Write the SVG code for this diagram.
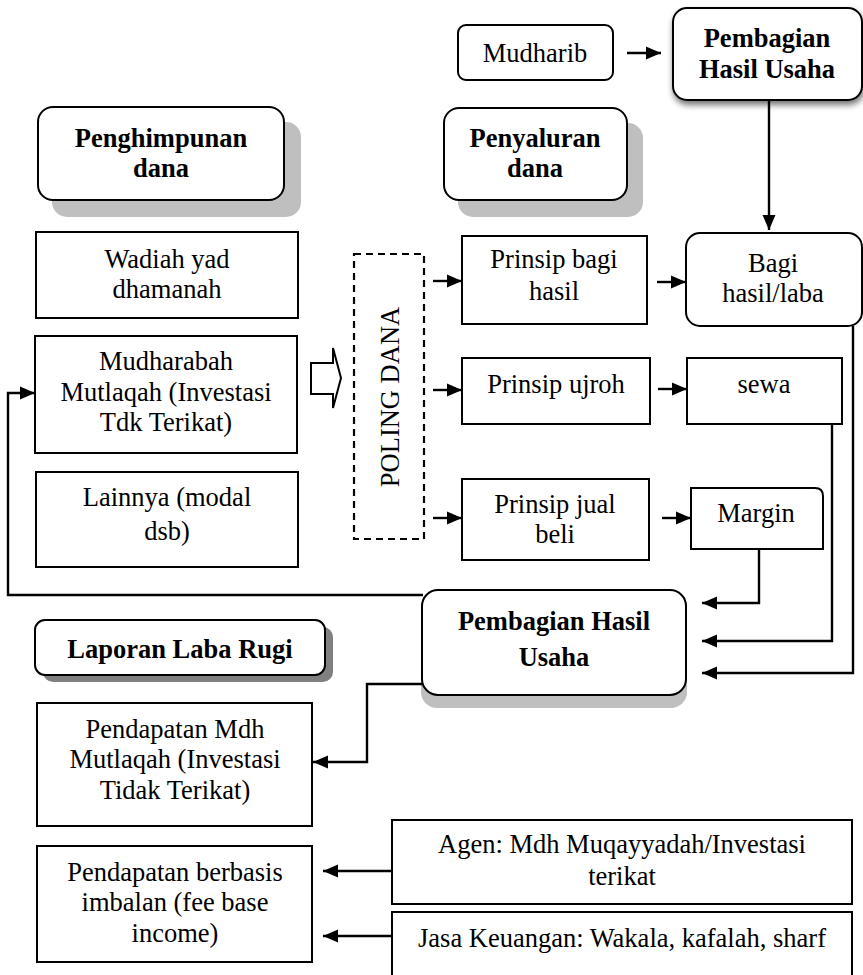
<svg xmlns="http://www.w3.org/2000/svg" width="863" height="975" viewBox="0 0 863 975">
<defs>
<style>
.b{fill:#fff;stroke:#000;stroke-width:2}
.t{font-family:"Liberation Serif","Times New Roman",serif;font-size:26.5px;fill:#000;text-anchor:middle}
.tb{font-weight:bold}
.sh{fill:#bfbfbf}
.c{fill:none;stroke:#000;stroke-width:2.4}
</style>
<marker id="ah" markerUnits="userSpaceOnUse" markerWidth="16" markerHeight="14" refX="15" refY="7" orient="auto">
<path d="M0,0.5 L15,7 L0,13.5 Z" fill="#000"/>
</marker>
<filter id="soft" x="-20%" y="-20%" width="140%" height="150%">
<feGaussianBlur in="SourceAlpha" stdDeviation="3"/>
<feOffset dx="1" dy="4" result="o"/>
<feComponentTransfer><feFuncA type="linear" slope="0.55"/></feComponentTransfer>
<feMerge><feMergeNode/><feMergeNode in="SourceGraphic"/></feMerge>
</filter>
</defs>
<rect width="863" height="975" fill="#fff"/>

<g id="mudharib">
<rect class="b" x="458" y="25" width="155" height="55" rx="8"/>
<text class="t" x="535" y="62">Mudharib</text>
</g>
<g id="pembagian-top">
<rect class="b" x="673" y="8" width="189" height="92" rx="14" filter="url(#soft)"/>
<text class="t tb" x="767" y="47">Pembagian</text>
<text class="t tb" x="767" y="78">Hasil Usaha</text>
</g>
<g id="penghimpunan">
<rect class="sh" x="52" y="122" width="249" height="95" rx="15"/>
<rect class="b" x="38" y="107" width="246" height="93" rx="15"/>
<text class="t tb" x="161" y="147">Penghimpunan</text>
<text class="t tb" x="161" y="177">dana</text>
</g>
<g id="penyaluran">
<rect class="sh" x="458" y="123" width="185" height="94" rx="15"/>
<rect class="b" x="444" y="108" width="183" height="92" rx="15"/>
<text class="t tb" x="535" y="147">Penyaluran</text>
<text class="t tb" x="535" y="177">dana</text>
</g>
<g id="wadiah">
<rect class="b" x="36" y="232" width="262" height="86"/>
<text class="t" x="167" y="268">Wadiah yad</text>
<text class="t" x="167" y="298">dhamanah</text>
</g>
<g id="mudharabah">
<rect class="b" x="35" y="336" width="262" height="117"/>
<text class="t" x="166" y="370">Mudharabah</text>
<text class="t" x="166" y="401">Mutlaqah (Investasi</text>
<text class="t" x="166" y="431">Tdk Terikat)</text>
</g>
<g id="lainnya">
<rect class="b" x="36" y="472" width="262" height="95"/>
<text class="t" x="167" y="506">Lainnya (modal</text>
<text class="t" x="167" y="540">dsb)</text>
</g>
<g id="block-arrow">
<path d="M311,363 H333 V348 L341,378 L333,408 V394 H311 Z" fill="#fff" stroke="#000" stroke-width="2" stroke-linejoin="miter"/>
</g>
<g id="poling">
<rect x="354" y="254" width="70" height="285" fill="#fff" stroke="#000" stroke-width="2.2" stroke-dasharray="7,5"/>
<text class="t" transform="translate(399,397) rotate(-90)" x="0" y="0">POLING DANA</text>
</g>
<g id="prinsip-bagi">
<rect class="b" x="462" y="236" width="185" height="88"/>
<text class="t" x="554" y="268">Prinsip bagi</text>
<text class="t" x="554" y="300">hasil</text>
</g>
<g id="bagi-hasil">
<rect class="b" x="686" y="233" width="176" height="93" rx="14"/>
<text class="t" x="773" y="272">Bagi</text>
<text class="t" x="773" y="302">hasil/laba</text>
</g>
<g id="prinsip-ujroh">
<rect class="b" x="462" y="358" width="188" height="66"/>
<text class="t" x="556" y="393">Prinsip ujroh</text>
</g>
<g id="sewa">
<rect class="b" x="687" y="358" width="155" height="66"/>
<text class="t" x="764" y="393">sewa</text>
</g>
<g id="prinsip-jual">
<rect class="b" x="462" y="479" width="187" height="81"/>
<text class="t" x="555" y="513">Prinsip jual</text>
<text class="t" x="555" y="543">beli</text>
</g>
<g id="margin">
<path class="b" d="M691,488 H815 Q823,488 823,496 V549 H691 Z"/>
<text class="t" x="756" y="522">Margin</text>
</g>
<g id="pembagian-mid">
<rect class="sh" x="421" y="602" width="266" height="106" rx="16"/>
<rect class="b" x="422" y="590" width="264" height="105" rx="16"/>
<text class="t tb" x="554" y="630">Pembagian Hasil</text>
<text class="t tb" x="554" y="666">Usaha</text>
</g>
<g id="laporan">
<rect x="43" y="627" width="290" height="55" rx="10" fill="#808080"/>
<rect class="b" x="35" y="620" width="290" height="55" rx="10"/>
<text class="t tb" x="180" y="658">Laporan Laba Rugi</text>
</g>
<g id="pendapatan-mdh">
<rect class="b" x="37" y="703" width="275" height="123"/>
<text class="t" x="175" y="738">Pendapatan Mdh</text>
<text class="t" x="175" y="768">Mutlaqah (Investasi</text>
<text class="t" x="175" y="799">Tidak Terikat)</text>
</g>
<g id="pendapatan-berbasis">
<rect class="b" x="37" y="846" width="275" height="116"/>
<text class="t" x="175" y="881">Pendapatan berbasis</text>
<text class="t" x="175" y="911">imbalan (fee base</text>
<text class="t" x="175" y="942">income)</text>
</g>
<g id="agen">
<rect class="b" x="392" y="820" width="460" height="84"/>
<text class="t" x="622" y="853">Agen: Mdh Muqayyadah/Investasi</text>
<text class="t" x="622" y="885">terikat</text>
</g>
<g id="jasa">
<rect class="b" x="392" y="912" width="460" height="80"/>
<text class="t" x="622" y="947">Jasa Keuangan: Wakala, kafalah, sharf</text>
</g>

<g id="connectors">
<path class="c" d="M627,53 H661" marker-end="url(#ah)"/>
<path class="c" d="M769,100 V230" marker-end="url(#ah)"/>
<path class="c" d="M433,281 H462" marker-end="url(#ah)"/>
<path class="c" d="M433,390 H462" marker-end="url(#ah)"/>
<path class="c" d="M433,518 H462" marker-end="url(#ah)"/>
<path class="c" d="M657,282 H686" marker-end="url(#ah)"/>
<path class="c" d="M658,389 H687" marker-end="url(#ah)"/>
<path class="c" d="M662,518 H691" marker-end="url(#ah)"/>
<path class="c" d="M759,549 V603 H702" marker-end="url(#ah)"/>
<path class="c" d="M832,424 V641 H702" marker-end="url(#ah)"/>
<path class="c" d="M853,326 V673 H702" marker-end="url(#ah)"/>
<path class="c" d="M423,595 H8 V393 H35" marker-end="url(#ah)"/>
<path class="c" d="M422,684 H367 V762 H313" marker-end="url(#ah)"/>
<path class="c" d="M392,871 H323" marker-end="url(#ah)"/>
<path class="c" d="M392,936 H323" marker-end="url(#ah)"/>
</g>
</svg>
